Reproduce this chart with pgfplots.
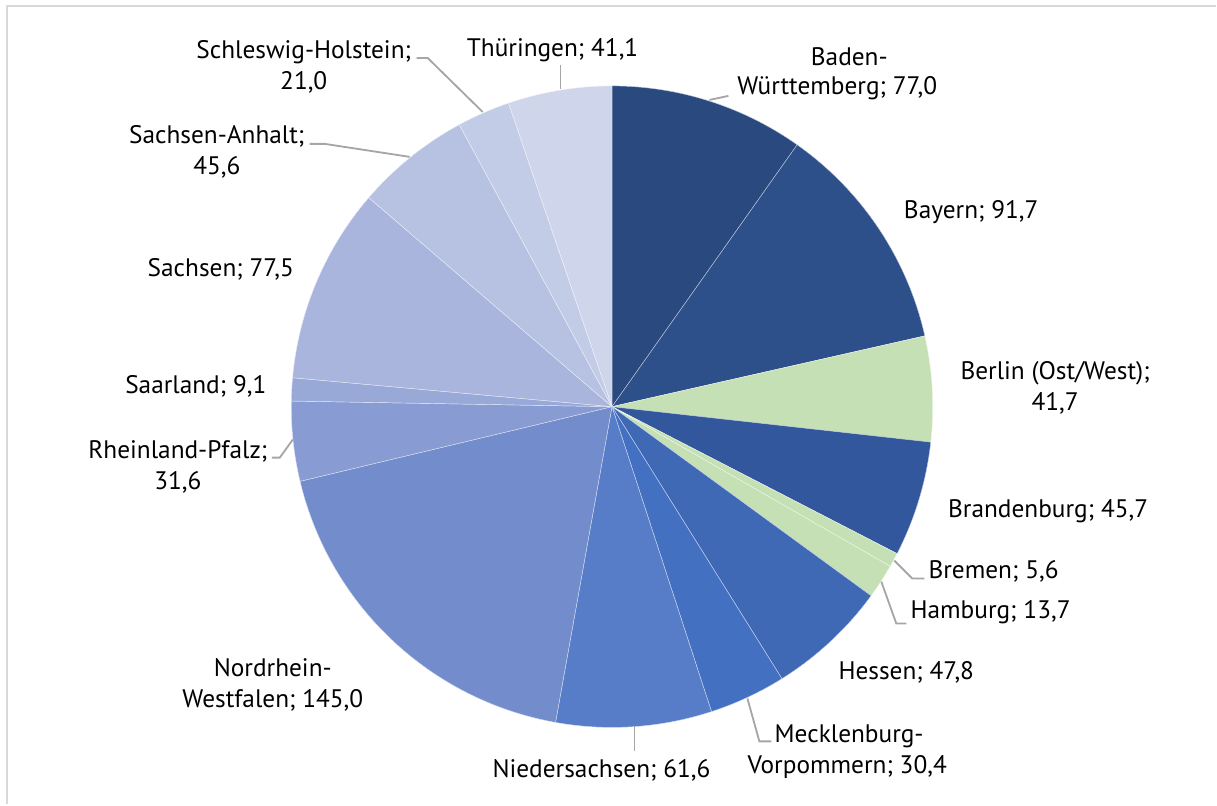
\documentclass[border=0pt]{standalone}
\usepackage{pgfplots}
\pgfplotsset{compat=1.18}
\usepackage{fontspec}
\setmainfont{PT Sans}
\definecolor{cBW}{HTML}{2A4A7F}
\definecolor{cBY}{HTML}{2D4F8A}
\definecolor{cGR}{HTML}{C5E0B4}
\definecolor{cBB}{HTML}{32579D}
\definecolor{cHE}{HTML}{3F68B5}
\definecolor{cMV}{HTML}{4470C2}
\definecolor{cNI}{HTML}{587DC8}
\definecolor{cNW}{HTML}{738CCB}
\definecolor{cRP}{HTML}{889CD3}
\definecolor{cSL}{HTML}{98A9D8}
\definecolor{cSN}{HTML}{A9B5DC}
\definecolor{cST}{HTML}{B7C2E2}
\definecolor{cSH}{HTML}{C3CCE6}
\definecolor{cTH}{HTML}{CFD5EA}
\definecolor{lead}{HTML}{A6A6A6}
\begin{document}
\begin{tikzpicture}
\begin{axis}[
  x=0.6pt, y=0.6pt,
  xmin=0, xmax=1217, ymin=-805, ymax=0,
  hide axis, clip=false,
]
\path (axis cs:0,0) rectangle (axis cs:1217,-805);
\draw[color=black!15, line width=1.2pt] (axis cs:7.5,-805) -- (axis cs:7.5,-6.5) -- (axis cs:1217,-6.5);
\pgfplotsextra{
  \foreach \v/\c [remember=\eb as \sb (initially 0)] in
   {77.0/cBW, 91.7/cBY, 41.7/cGR, 45.7/cBB, 5.6/cGR, 13.7/cGR, 47.8/cHE,
    30.4/cMV, 61.6/cNI, 145.0/cNW, 31.6/cRP, 9.1/cSL, 77.5/cSN, 45.6/cST,
    21.0/cSH, 41.1/cTH}
  {
    \pgfmathsetmacro\eb{\sb+\v/786.1*360}
    \pgfmathsetmacro\sa{90-\sb}
    \pgfmathsetmacro\ea{90-\eb}
    \fill[\c, draw=white!70!\c, line width=0.25pt, line join=round]
      (axis cs:612.5,-407) -- ++(\sa:192.6pt)
      arc[start angle=\sa, end angle=\ea, radius=192.6pt] -- cycle;
  }
}
% leader lines
\begin{scope}[lead, line width=1.1pt]
\draw (axis cs:710,-100) -- (axis cs:729,-96);
\draw (axis cs:895,-561) -- (axis cs:913,-579) -- (axis cs:925,-579);
\draw (axis cs:882,-582) -- (axis cs:897,-624) -- (axis cs:907,-624);
\draw (axis cs:748,-699) -- (axis cs:760,-742) -- (axis cs:772,-742);
\draw (axis cs:635,-727) -- (axis cs:635,-752);
\draw (axis cs:272,-458) -- (axis cs:280,-458) -- (axis cs:293,-440);
\draw (axis cs:310,-144) -- (axis cs:325,-144) -- (axis cs:410,-157);
\draw (axis cs:417,-58) -- (axis cs:428,-58) -- (axis cs:483,-112);
\draw (axis cs:561,-65) -- (axis cs:561,-89);
\end{scope}
% labels
\begin{scope}[every node/.style={font=\fontsize{15.2}{18.6}\selectfont, align=center, inner sep=0pt}]
\node at (axis cs:850,-57) {Baden-};
\node at (axis cs:838,-88) {Württemberg; 77,0};
\node at (axis cs:972,-212) {Bayern; 91,7};
\node at (axis cs:1056,-388) {Berlin (Ost/West);\\41,7};
\node at (axis cs:1049,-512) {Brandenburg; 45,7};
\node[anchor=west] at (axis cs:929,-572) {Bremen; 5,6};
\node[anchor=west] at (axis cs:911,-613) {Hamburg; 13,7};
\node at (axis cs:907,-673) {Hessen; 47,8};
\node[anchor=west] at (axis cs:775,-737) {Mecklenburg-};
\node[anchor=west] at (axis cs:748,-768) {Vorpommern; 30,4};
\node at (axis cs:602,-771) {Niedersachsen; 61,6};
\node at (axis cs:273,-685) {Nordrhein-\\Westfalen; 145,0};
\node at (axis cs:178,-467) {Rheinland-Pfalz;\\31,6};
\node at (axis cs:196,-387) {Saarland; 9,1};
\node at (axis cs:221,-270) {Sachsen; 77,5};
\node at (axis cs:217,-152) {Sachsen-Anhalt;\\45,6};
\node at (axis cs:304,-67) {Schleswig-Holstein;\\21,0};
\node at (axis cs:553,-50) {Thüringen; 41,1};
\end{scope}
\end{axis}
\end{tikzpicture}
\end{document}
